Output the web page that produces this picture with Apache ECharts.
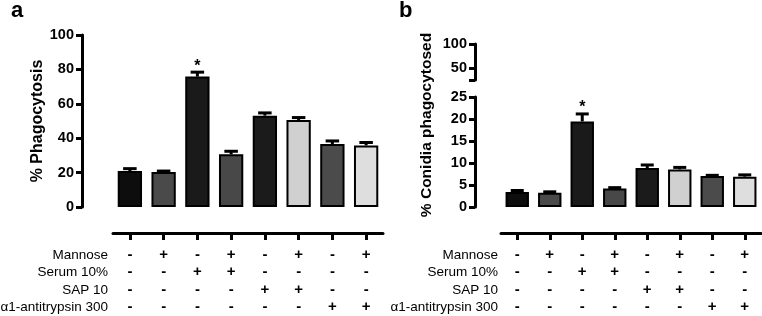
<!DOCTYPE html>
<html>
<head>
<meta charset="utf-8">
<script src="https://cdn.jsdelivr.net/npm/echarts@6/dist/echarts.min.js"></script>
<style>
html,body{margin:0;padding:0;background:#fff;}
#main{width:762px;height:316px;}
</style>
</head>
<body>
<div id="main"></div>
<script>
// group order is the same in both panels
var groups = ['g1','g2','g3','g4','g5','g6','g7','g8'];
var mannose = ['-','+','-','+','-','+','-','+'];
var serum   = ['-','-','+','+','-','-','-','-'];
var sap     = ['-','-','-','-','+','+','-','-'];
var antitry = ['-','-','-','-','-','-','+','+'];
var rowNames = ['Mannose','Serum 10%','SAP 10','\u03b11-antitrypsin 300'];
var barColors = ['#0d0d0d','#4a4a4a','#1a1a1a','#484848','#1b1b1b','#d0d0d0','#4b4b4b','#dedede'];

// panel a: % phagocytosis (mean, sem)
var phagoMean = [20.9, 20.3, 75.8, 30.6, 53.1, 50.6, 36.6, 35.8];
var phagoSem  = [1.4, 0.6, 2.6, 1.8, 1.6, 1.4, 1.8, 1.7];
// panel b: % conidia phagocytosed
var conMean = [3.4, 3.25, 19.45, 4.2, 8.85, 8.55, 7.05, 6.9];
var conSem  = [0.35, 0.2, 1.7, 0.2, 0.7, 0.45, 0.15, 0.4];
var signif  = [false, false, true, false, false, false, false, false];

var font = 'Liberation Sans, Arial, Helvetica, sans-serif';

function barData(vals){
	var out=[];
	for(var i=0;i<vals.length;i++){
		out.push({value:vals[i], itemStyle:{color:barColors[i]}});
	}
	return out;
}
function errData(mean,sem){
	var out=[];
	for(var i=0;i<mean.length;i++){
		out.push([i, mean[i], mean[i]+sem[i], signif[i]?1:0]);
	}
	return out;
}
function renderErr(params, api){
	var x=api.value(0);
	var p0=api.coord([x, api.value(1)]);
	var p1=api.coord([x, api.value(2)]);
	var half=api.size([1,0])[0]*0.2;
	var st={stroke:'#000', lineWidth:3};
	var kids=[
		{type:'line', shape:{x1:p0[0], y1:p0[1], x2:p1[0], y2:p1[1]}, style:st},
		{type:'line', shape:{x1:p1[0]-half, y1:p1[1], x2:p1[0]+half, y2:p1[1]}, style:st}
	];
	if(api.value(3)){
		kids.push({type:'text', style:{text:'*', x:p1[0], y:p1[1]+2, align:'center', verticalAlign:'bottom',
			font:'bold 16px '+font, fill:'#000'}});
	}
	return {type:'group', children:kids};
}
function tableLabel(v, i){
	return [mannose[i], serum[i], sap[i], antitry[i]].join('\n');
}
function tableAxis(gridIndex){
	return {
		type:'category', gridIndex:gridIndex, data:groups, position:'bottom', offset:26,
		axisLine:{show:true, lineStyle:{color:'#000', width:3}},
		axisTick:{show:true, alignWithLabel:true, length:7, lineStyle:{color:'#000', width:3}},
		axisLabel:{formatter:tableLabel, margin:13, lineHeight:17.5, color:'#000',
			fontFamily:font, fontWeight:'bold', fontSize:15}
	};
}
var yLine = {show:true, lineStyle:{color:'#000', width:3}};
var yTick = {show:true, length:6, lineStyle:{color:'#000', width:3}};
var yLabel = {color:'#000', fontFamily:font, fontWeight:'bold', fontSize:14.5, margin:8};

var option = {
	animation:false,
	grid:[
		{left:113, width:270, top:35, height:172},
		{left:501, right:1, top:97, height:110},
		{left:501, right:1, top:44, height:36}
	],
	xAxis:[
		{type:'category', gridIndex:0, data:groups, show:false},
		tableAxis(0),
		{type:'category', gridIndex:1, data:groups, show:false},
		tableAxis(1),
		{type:'category', gridIndex:2, data:groups, show:false}
	],
	yAxis:[
		{type:'value', gridIndex:0, min:0, max:100, interval:20, offset:31,
			axisLine:yLine, axisTick:yTick, axisLabel:yLabel, splitLine:{show:false},
			name:'% Phagocytosis', nameLocation:'middle', nameGap:35,
			nameTextStyle:{color:'#000', fontFamily:font, fontWeight:'bold', fontSize:16}},
		{type:'value', gridIndex:1, min:0, max:25, interval:5, offset:26,
			axisLine:yLine, axisTick:yTick, axisLabel:yLabel, splitLine:{show:false}},
		{type:'value', gridIndex:2, min:25, max:100, offset:26,
			axisLine:yLine,
			axisTick:{show:true, length:6, lineStyle:{color:'#000', width:3}, customValues:[25,50,100]},
			axisLabel:{color:'#000', fontFamily:font, fontWeight:'bold', fontSize:14.5, margin:8, customValues:[50,100]},
			splitLine:{show:false}}
	],
	graphic:[
		{type:'text', left:11, top:0, style:{text:'a', font:'bold 22px '+font, fill:'#000'}},
		{type:'text', left:399, top:0, style:{text:'b', font:'bold 22px '+font, fill:'#000'}},
		{type:'text', x:427, y:125, rotation:Math.PI/2,
			style:{text:'% Conidia phagocytosed', font:'bold 15.5px '+font, fill:'#000', align:'center', verticalAlign:'middle'}}
	],
	series:[
		{type:'bar', xAxisIndex:0, yAxisIndex:0, barWidth:'72%', data:barData(phagoMean),
			itemStyle:{borderColor:'#000', borderWidth:2}},
		{type:'custom', xAxisIndex:0, yAxisIndex:0, renderItem:renderErr, data:errData(phagoMean, phagoSem), z:3},
		{type:'bar', xAxisIndex:2, yAxisIndex:1, barWidth:'72%', data:barData(conMean),
			itemStyle:{borderColor:'#000', borderWidth:2}},
		{type:'custom', xAxisIndex:2, yAxisIndex:1, renderItem:renderErr, data:errData(conMean, conSem), z:3},
		{type:'bar', xAxisIndex:4, yAxisIndex:2, data:[]}
	]
};
// row names of the treatment table
var rowY=[255, 272.5, 290, 307.5];
for(var r=0;r<rowNames.length;r++){
	option.graphic.push({type:'text', x:108, y:rowY[r], style:{text:rowNames[r], font:'13.5px '+font, fill:'#000', align:'right', verticalAlign:'middle'}});
	option.graphic.push({type:'text', x:498, y:rowY[r], style:{text:rowNames[r], font:'13.5px '+font, fill:'#000', align:'right', verticalAlign:'middle'}});
}
var myChart = echarts.init(document.getElementById('main'));
myChart.setOption(option);
</script>
</body>
</html>
